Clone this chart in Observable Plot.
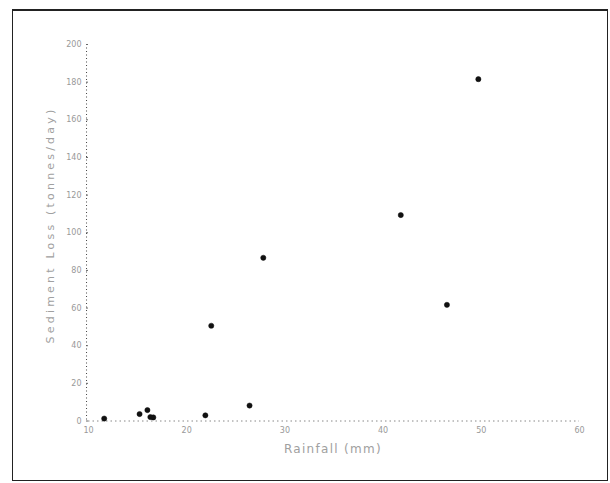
<!DOCTYPE html>
<html>
<head>
<meta charset="utf-8">
<script src="https://cdn.jsdelivr.net/npm/d3@7"></script>
<script src="https://cdn.jsdelivr.net/npm/@observablehq/plot@0.6"></script>
<style>
  html, body { margin: 0; padding: 0; background: #fff; }
  #wrap { position: relative; width: 610px; height: 483px; overflow: hidden; }
  #frame { position: absolute; left: 12px; top: 9px; width: 596px; height: 472px; border: 1.5px solid #222; border-top-width: 2px; box-sizing: border-box; pointer-events: none; }
  #chart { position: absolute; left: 0; top: 0; }
  #ytitle { position: absolute; left: 50px; top: 225px; transform: translate(-50%, -50%) rotate(-90deg); white-space: nowrap;
            font: 11px "DejaVu Sans", sans-serif; letter-spacing: 3.2px; color: #a0a0a0; }
  #xtitle { position: absolute; left: 333px; top: 449px; transform: translate(-50%, -50%); white-space: nowrap;
            font: 12px "DejaVu Sans", sans-serif; letter-spacing: 1.3px; color: #a0a0a0; }
</style>
</head>
<body>
<div id="wrap">
  <div id="chart"></div>
  <div id="ytitle">Sediment Loss (tonnes/day)</div>
  <div id="xtitle">Rainfall (mm)</div>
  <div id="frame"></div>
</div>
<script>
// Rainfall (mm)
const rainfall = [11.6, 15.2, 16.0, 16.3, 16.6, 21.9, 26.4, 22.5, 27.8, 41.8, 46.5, 49.7];
// Sediment loss (tonnes/day)
const sediment = [1.3, 3.7, 5.8, 2.1, 1.9, 3.0, 8.2, 50.6, 86.7, 109.4, 61.7, 181.6];
const xTicks = [10, 20, 30, 40, 50, 60];
const yTicks = [0, 20, 40, 60, 80, 100, 120, 140, 160, 180, 200];

const data = rainfall.map((r, i) => ({rain: r, sed: sediment[i]}));

const chart = Plot.plot({
  width: 610,
  height: 483,
  marginLeft: 88,
  marginRight: 31,
  marginTop: 44,
  marginBottom: 62.5,
  style: {fontFamily: "DejaVu Sans, sans-serif", background: "transparent"},
  x: {domain: [10, 60], ticks: xTicks, label: null},
  y: {domain: [0, 200], ticks: yTicks, label: null},
  marks: [
    Plot.ruleY([0], {stroke: "#888", strokeDasharray: "1.5,3", strokeWidth: 1}),
    Plot.ruleX([9.8], {stroke: "#444", strokeDasharray: "1,2.5", strokeWidth: 1}),
    Plot.axisX({ticks: xTicks, tickSize: 0, tickPadding: 6, fontSize: 8, fill: "#999"}),
    Plot.axisY({ticks: yTicks, tickSize: 2, tickPadding: 5, fontSize: 8, fill: "#999", stroke: "#666"}),
    Plot.dot(data, {x: "rain", y: "sed", r: 2.6, fill: "#111", stroke: "#111", strokeWidth: 0.5})
  ]
});
document.getElementById("chart").appendChild(chart);
</script>
</body>
</html>
